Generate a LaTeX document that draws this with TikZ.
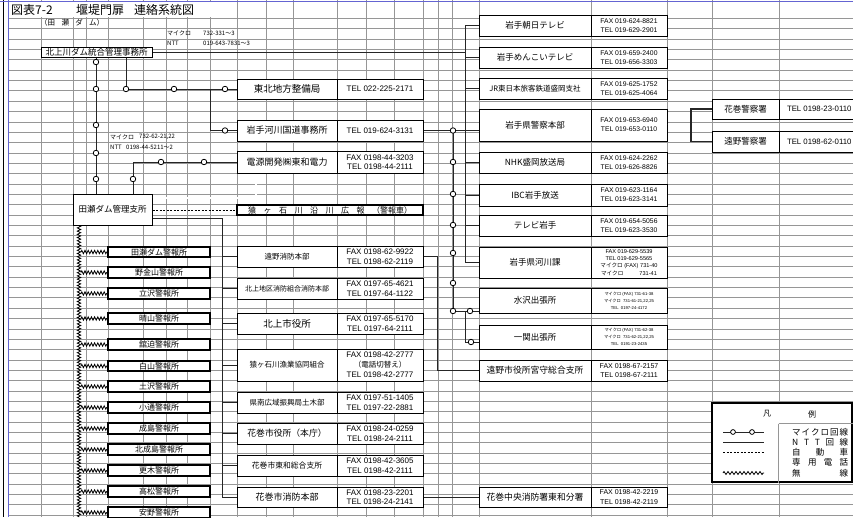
\documentclass[tikz,border=0pt]{standalone}
\usepackage{fontspec}
\setmainfont{Noto Sans CJK JP}
\newfontfamily\lat{Liberation Sans}
\newfontfamily\jp{Noto Sans CJK JP}
\usetikzlibrary{decorations.pathmorphing}
\definecolor{bord}{RGB}{100,100,210}
\definecolor{gridc}{RGB}{150,150,150}
\newcommand\mkbox[7]{%
 \pgfmathsetmacro\mbw{#5-#3}%
 \pgfmathsetmacro\mbh{#6-#4}%
 \pgfmathsetmacro\mbx{(#3+#5)/2}%
 \pgfmathsetmacro\mby{(#4+#6)/2}%
 \node[#1, minimum width=\mbw pt, minimum height=\mbh pt] (#2) at (\mbx,\mby) {#7};}
\begin{document}
\begin{tikzpicture}[x=1pt,y=-1pt,
 bx/.style={draw=black, line width=1pt, fill=white, inner sep=0.5pt, align=center, font=\fontsize{8.5}{10}\selectfont},
 fs/.style={font=\fontsize{#1}{#1}\selectfont},
 tb/.style={bx},
 tfs/.style 2 args={font=\lat\fontsize{#1}{#2}\selectfont},
 wb/.style={bx, line width=1.3pt, font=\fontsize{8}{9}\selectfont},
 mc/.style={circle, draw=black, fill=white, line width=0.8pt, inner sep=0pt, minimum size=5.5pt},
 ntt/.style={draw=black!85, line width=0.9pt},
 mic/.style={draw=black!85, line width=0.9pt},
 dbl/.style={draw=black!80, line width=0.6pt, double=white, double distance=1.3pt},
 dsh/.style={draw=black, line width=0.6pt, dash pattern=on 2pt off 1.5pt},
 wl/.style={draw=black, line width=0.8pt, decorate, decoration={zigzag, segment length=3.2pt, amplitude=1.7pt}},
 gridln/.style={draw=gridc, line width=1pt},
 lbl/.style={inner sep=0pt, anchor=west, font=\fontsize{6}{6}\selectfont},
]
\useasboundingbox (0,0) rectangle (853,517);
% spreadsheet grid (pixel aligned)
\foreach \k in {0,...,48}{
  \pgfmathsetmacro\gy{round(18+10.35*\k)+0.5}
  \draw[gridln] (8,\gy) -- (853,\gy);
}
\foreach \xx in {41,73,86,108,143,166,187,210,237,266,293,337,366,394,423,438,452,479,591,667,712,779}{
  \draw[gridln] (\xx+0.5,0) -- (\xx+0.5,517);
}
\fill[white] (9,2) rectangle (236,17.4);
\draw[black, line width=1pt] (3.5,0) -- (3.5,517);
\draw[bord, line width=1pt] (8.5,0) -- (8.5,517);
\draw[bord, line width=1pt] (0,1.5) -- (853,1.5);

% titles and labels
\node[anchor=west, inner sep=0pt, font=\fontsize{12}{12}\selectfont] (ttl1) at (11,10) {図表7-2};
\node[anchor=west, inner sep=0pt, font=\fontsize{12}{12}\selectfont] (ttl2) at (76,10) {堰堤門扉};
\node[anchor=west, inner sep=0pt, font=\fontsize{12}{12}\selectfont] (ttl3) at (134,10) {連絡系統図};
\node[anchor=west, inner sep=0pt, font=\fontsize{7.5}{7.5}\selectfont] (ttl4) at (40,22.5) {\makebox[64pt][s]{（田\hfill 瀬\hfill ダ\hfill ム）}};
\node[lbl] (l1) at (167,33) {マイクロ};
\node[lbl] (l2) at (203,33) {732-331～3};
\node[lbl] (l3) at (167,43) {NTT};
\node[lbl] (l4) at (203,43) {019-643-7831～3};
\node[lbl] (l5) at (110,137) {マイクロ};
\node[lbl] (l6) at (139,137) {732-62-21,22};
\node[lbl] (l7) at (110,147) {NTT};
\node[lbl] (l8) at (126,147) {0198-44-5211～2};

% left offices
\mkbox{bx}{kk}{41}{47}{152}{57}{北上川ダム統合管理事務所}
\mkbox{bx}{tase}{73}{194}{152}{225}{田瀬ダム管理支所}

% middle column
\mkbox{bx,fs=9.5}{tohoku}{237}{79}{337}{99}{東北地方整備局}
\mkbox{tb,tfs={8}{9.5}}{tohokuT}{337}{79}{423}{99}{TEL 022-225-2171}
\mkbox{bx,fs=9}{kokudo}{237}{120}{337}{141}{岩手河川国道事務所}
\mkbox{tb,tfs={8}{9.5}}{kokudoT}{337}{120}{423}{141}{TEL 019-624-3131}
\mkbox{bx,fs=9}{dengen}{237}{151}{337}{173}{電源開発㈱東和電力}
\mkbox{tb,tfs={8}{9.5}}{dengenT}{337}{151}{423}{173}{FAX 0198-44-3203\\TEL 0198-44-2111}
\mkbox{wb}{koho}{237}{205}{423}{215}{\makebox[164pt][s]{猿\hfill ヶ\hfill 石\hfill 川\hfill 沿\hfill 川\hfill 広\hfill 報\hfill （警報車）}}
\mkbox{bx,fs=7.5}{tonoF}{237}{246}{337}{267}{遠野消防本部}
\mkbox{tb,tfs={8}{9.5}}{tonoFT}{337}{246}{423}{267}{FAX 0198-62-9922\\TEL 0198-62-2119}
\mkbox{bx,fs=7}{kitaF}{237}{278}{337}{299}{北上地区消防組合消防本部}
\mkbox{tb,tfs={8}{9.5}}{kitaFT}{337}{278}{423}{299}{FAX 0197-65-4621\\TEL 0197-64-1122}
\mkbox{bx,fs=9.5}{kitaC}{237}{313}{337}{334}{北上市役所}
\mkbox{tb,tfs={8}{9.5}}{kitaCT}{337}{313}{423}{334}{FAX 0197-65-5170\\TEL 0197-64-2111}
\mkbox{bx,fs=7.5}{gyo}{237}{349}{337}{381}{猿ヶ石川漁業協同組合}
\mkbox{tb,tfs={8}{9.8}}{gyoT}{337}{349}{423}{381}{FAX 0198-42-2777\\{\jp\fontsize{7.5}{9.8}\selectfont （電話切替え）}\\TEL 0198-42-2777}
\mkbox{bx,fs=7.5}{kennan}{237}{392}{337}{413}{県南広域振興局土木部}
\mkbox{tb,tfs={8}{9.5}}{kennanT}{337}{392}{423}{413}{FAX 0197-51-1405\\TEL 0197-22-2881}
\mkbox{bx,fs=8.8}{hanaC}{237}{423}{337}{444}{花巻市役所（本庁）}
\mkbox{tb,tfs={8}{9.5}}{hanaCT}{337}{423}{423}{444}{FAX 0198-24-0259\\TEL 0198-24-2111}
\mkbox{bx,fs=7.8}{towa}{237}{455}{337}{476}{花巻市東和総合支所}
\mkbox{tb,tfs={8}{9.5}}{towaT}{337}{455}{423}{476}{FAX 0198-42-3605\\TEL 0198-42-2111}
\mkbox{bx,fs=9}{shobo}{237}{487}{337}{507}{花巻市消防本部}
\mkbox{tb,tfs={8}{9.5}}{shoboT}{337}{487}{423}{507}{FAX 0198-23-2201\\TEL 0198-24-2141}

% right column
\mkbox{bx}{tv1}{479}{15}{591}{36}{岩手朝日テレビ}
\mkbox{tb,tfs={6.8}{9}}{tv1T}{591}{15}{667}{36}{FAX 019-624-8821\\TEL 019-629-2901}
\mkbox{bx}{tv2}{479}{47}{591}{68}{岩手めんこいテレビ}
\mkbox{tb,tfs={6.8}{9}}{tv2T}{591}{47}{667}{68}{FAX 019-659-2400\\TEL 019-656-3303}
\mkbox{bx,fs=7.5}{jr}{479}{78}{591}{99}{JR東日本旅客鉄道盛岡支社}
\mkbox{tb,tfs={6.8}{9}}{jrT}{591}{78}{667}{99}{FAX 019-625-1752\\TEL 019-625-4064}
\mkbox{bx}{police}{479}{109}{591}{141}{岩手県警察本部}
\mkbox{tb,tfs={6.8}{9}}{policeT}{591}{109}{667}{141}{FAX 019-653-6940\\TEL 019-653-0110}
\mkbox{bx}{nhk}{479}{152}{591}{173}{NHK盛岡放送局}
\mkbox{tb,tfs={6.8}{9}}{nhkT}{591}{152}{667}{173}{FAX 019-624-2262\\TEL 019-626-8826}
\mkbox{bx}{ibc}{479}{184}{591}{206}{IBC岩手放送}
\mkbox{tb,tfs={6.8}{9}}{ibcT}{591}{184}{667}{206}{FAX 019-623-1164\\TEL 019-623-3141}
\mkbox{bx}{tvi}{479}{215}{591}{236}{テレビ岩手}
\mkbox{tb,tfs={6.8}{9}}{tviT}{591}{215}{667}{236}{FAX 019-654-5056\\TEL 019-623-3530}
\mkbox{bx}{kasen}{479}{247}{591}{278}{岩手県河川課}
\mkbox{tb,tfs={5.6}{7.2}}{kasenT}{591}{247}{667}{278}{FAX 019-629-5539\\TEL 019-629-5565\\{\jp マイクロ} (FAX) 731-40\\{\jp マイクロ}\hspace{16pt}731-41}
\mkbox{bx}{mizu}{479}{288}{591}{313}{水沢出張所}
\mkbox{tb,tfs={4.2}{7}}{mizuT}{591}{288}{667}{313}{{\jp マイクロ} (FAX) 731-61-38\\{\jp マイクロ}\ \ 731-61-21,22,25\\TEL\ \ 0197-24-4172}
\mkbox{bx}{ichi}{479}{325}{591}{349}{一関出張所}
\mkbox{tb,tfs={4.2}{7}}{ichiT}{591}{325}{667}{349}{{\jp マイクロ} (FAX) 731-62-38\\{\jp マイクロ}\ \ 731-62-21,22,25\\TEL\ \ 0191-23-2435}
\mkbox{bx,fs=8.8}{miya}{479}{360}{591}{381}{遠野市役所宮守総合支所}
\mkbox{tb,tfs={7}{9.5}}{miyaT}{591}{360}{667}{381}{FAX 0198-67-2157\\TEL 0198-67-2111}
\mkbox{bx,fs=8.8}{bunsho}{479}{487}{591}{507}{花巻中央消防署東和分署}
\mkbox{tb,tfs={7}{9.5}}{bunshoT}{591}{487}{667}{507}{FAX 0198-42-2219\\TEL 0198-42-2119}

% police stations
\mkbox{bx}{hpol}{712}{99}{779}{119}{花巻警察署}
\mkbox{tb,tfs={7.8}{9}}{hpolT}{779}{99}{870}{119}{\makebox[85pt][l]{\hspace{5pt}TEL 0198-23-0110}}
\mkbox{bx}{tpol}{712}{131}{779}{152}{遠野警察署}
\mkbox{tb,tfs={7.8}{9}}{tpolT}{779}{131}{870}{152}{\makebox[85pt][l]{\hspace{5pt}TEL 0198-62-0110}}

% warning stations
\mkbox{bx,line width=1.2pt,fs=8}{w1}{108}{247}{210}{257}{田瀬ダム警報所}
\mkbox{bx,line width=1.2pt,fs=8}{w2}{108}{267}{210}{278}{野金山警報所}
\mkbox{bx,line width=1.2pt,fs=8}{w3}{108}{288}{210}{299}{立沢警報所}
\mkbox{bx,line width=1.2pt,fs=8}{w4}{108}{313}{210}{324}{晴山警報所}
\mkbox{bx,line width=1.2pt,fs=8}{w5}{108}{339}{210}{350}{舘迫警報所}
\mkbox{bx,line width=1.2pt,fs=8}{w6}{108}{361}{210}{371}{白山警報所}
\mkbox{bx,line width=1.2pt,fs=8}{w7}{108}{381}{210}{392}{土沢警報所}
\mkbox{bx,line width=1.2pt,fs=8}{w8}{108}{402}{210}{413}{小通警報所}
\mkbox{bx,line width=1.2pt,fs=8}{w9}{108}{423}{210}{434}{成島警報所}
\mkbox{bx,line width=1.2pt,fs=8}{w10}{108}{444}{210}{455}{北成島警報所}
\mkbox{bx,line width=1.2pt,fs=8}{w11}{108}{465}{210}{476}{更木警報所}
\mkbox{bx,line width=1.2pt,fs=8}{w12}{108}{486}{210}{497}{高松警報所}
\mkbox{bx,line width=1.2pt,fs=8}{w13}{108}{507}{210}{518}{安野警報所}

% ---- connectors ----
\coordinate (busT) at (465,25.5);
\draw[ntt] (kk.east) -- (kk.east -| busT);
\draw[ntt] (tv1.west) -- (busT) |- (kasen.west);
\foreach \n in {tv2,jr,nhk,ibc,tvi} \draw[ntt] (busT |- \n.west) -- (\n.west);
\draw[mic] (kk.south -| 96,0) -- (tase.north -| 96,0);
\draw[mic] (kk.south -| 126,0) |- (tohoku.west);
\coordinate (jB) at (tohoku.west -| 210,0);
\draw[mic] (jB) |- (kokudo.west);
\draw[mic] (tase.north -| 133,0) |- (dengen.west);
\draw[mic] (kokudoT.east) -- (kokudoT.east -| police.west);
\coordinate (jD) at (kokudoT.east -| 453,0);
\coordinate (jE) at (453,311);
\draw[mic] (jD) -- (jE) -- (jE -| mizu.west);
\coordinate (jF) at (465,311);
\coordinate (jG) at (465,342);
\draw[mic] (jF) -- (jG) -- (jG -| ichi.west);
\coordinate (jH) at (tonoFT.east -| 437,0);
\draw[ntt] (tonoFT.east) -- (jH) |- (miya.west);
\coordinate (eS) at (tase.east |- 0,218);
\coordinate (eC) at (222,218);
\draw[ntt] (eS) -- (eC) |- (shobo.west);
\foreach \n in {tonoF,kitaF,kitaC,gyo,kennan,hanaC,towa} \draw[ntt] (\n.west -| eC) -- (\n.west);
\draw[ntt] (shoboT.east) -- (bunsho.west);
\coordinate (gS) at (tase.east |- 0,198);
\coordinate (gE) at (dengen.south -| 256,0);
\draw[dbl] (gS) -| (gE);
\draw[dsh] (tase.east |- koho.west) -- (koho.west);
\coordinate (pJ) at (policeT.east -| 691,0);
\draw[dbl] (policeT.east) -- (pJ);
\draw[ntt, line width=1.1pt] (hpol.west) -| (pJ) |- (tpol.west);
\coordinate (zS) at (tase.south -| 79,0);
\coordinate (zE) at (79,517);
\draw[wl] (zS) -- (zE);
\foreach \n in {w1,w2,w3,w4,w5,w6,w7,w8,w9,w10,w11,w12,w13} \draw[wl] (\n.west -| 81,0) -- (\n.west);

\foreach \cx/\cy [count=\i] in {96/62,96/89,96/125,96/153,96/179,126/89,174/89,225/89,225/130.5,133/179,161/162,204/162,453/130.5,453/162,453/194,453/225,453/253,453/283,453/311,470/311,471/342}
  \node[mc] (mc\i) at (\cx,\cy) {};

% legend
\mkbox{bx,line width=1.2pt}{lg}{712}{403}{852}{482}{}
\draw[gridln] (778.5,423.5) -- (lg.east |- 0,423.5);
\draw[gridln] (778.5,423.5) -- (lg.south -| 778.5,0);
\node[font=\fontsize{8}{8}\selectfont, inner sep=0pt] (lgh1) at (767,414) {凡};
\node[font=\fontsize{8}{8}\selectfont, inner sep=0pt] (lgh2) at (812,414) {例};
\coordinate (lA1) at (723,432); \coordinate (lA2) at (764,432);
\draw[mic] (lA1) -- (lA2);
\node[mc, minimum size=4.8pt] (lgc1) at (733,432) {};
\node[mc, minimum size=4.8pt] (lgc2) at (752,432) {};
\coordinate (lB1) at (723,442); \coordinate (lB2) at (764,442);
\draw[ntt] (lB1) -- (lB2);
\coordinate (lC1) at (723,452); \coordinate (lC2) at (764,452);
\draw[dsh] (lC1) -- (lC2);
\coordinate (lD1) at (723,462); \coordinate (lD2) at (764,462);
\draw[dbl] (lD1) -- (lD2);
\coordinate (lE1) at (723,473); \coordinate (lE2) at (764,473);
\draw[wl, decoration={zigzag, segment length=4pt, amplitude=1.5pt}] (lE1) -- (lE2);
\node[anchor=west, inner sep=0pt, font=\fontsize{8.5}{8.5}\selectfont] (lt1) at (792,432) {\makebox[56pt][s]{マ\hfill イ\hfill ク\hfill ロ\hfill 回\hfill 線}};
\node[anchor=west, inner sep=0pt, font=\fontsize{8.5}{8.5}\selectfont] (lt2) at (792,442) {\makebox[56pt][s]{N\hfill T\hfill T\hfill 回\hfill 線}};
\node[anchor=west, inner sep=0pt, font=\fontsize{8.5}{8.5}\selectfont] (lt3) at (792,452) {\makebox[56pt][s]{自\hfill 動\hfill 車}};
\node[anchor=west, inner sep=0pt, font=\fontsize{8.5}{8.5}\selectfont] (lt4) at (792,462) {\makebox[56pt][s]{専\hfill 用\hfill 電\hfill 話}};
\node[anchor=west, inner sep=0pt, font=\fontsize{8.5}{8.5}\selectfont] (lt5) at (792,473) {\makebox[56pt][s]{無\hfill 線}};
\end{tikzpicture}
\end{document}
